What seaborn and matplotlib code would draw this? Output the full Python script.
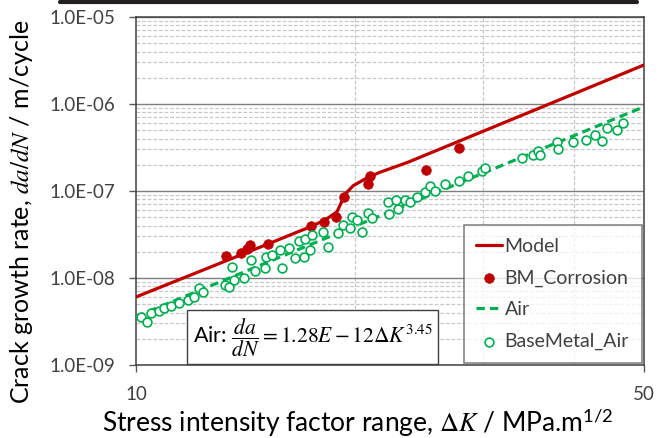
import numpy as np
import pandas as pd
import matplotlib
matplotlib.use("Agg")
import matplotlib.pyplot as plt
from matplotlib.lines import Line2D
from matplotlib.ticker import FixedLocator, FuncFormatter, NullFormatter, LogLocator
import seaborn as sns

# --- Daten ---
# Modell (rote Linie)
k_model = [10.0, 15.3, 17.35, 18.2, 18.9, 19.4, 19.9, 20.9, 21.7, 23.7, 50.0]
r_model = [6.05e-9, 2.52e-8, 3.86e-8, 4.64e-8, 5.74e-8, 9.2e-8, 1.15e-7,
           1.45e-7, 1.65e-7, 2.15e-7, 2.81e-6]

# BM_Corrosion (rote Punkte)
k_corr = [13.30, 13.94, 14.21, 14.35, 15.19, 17.41, 18.14, 18.84, 19.32,
          20.85, 20.98, 25.06, 27.82]
r_corr = [1.79e-8, 1.94e-8, 2.15e-8, 2.39e-8, 2.46e-8, 3.96e-8, 4.40e-8,
          5.03e-8, 8.53e-8, 1.20e-7, 1.49e-7, 1.74e-7, 3.12e-7]

# Air-Fit: da/dN = 1.28E-12 dK^3.45 (Endpunkte)
k_air = [10.0, 50.0]
r_air = [3.6e-9, 9.3e-7]

# BaseMetal_Air (gruene Kreise)
k_base = [10.16, 10.35, 10.49, 10.76, 10.93, 11.17, 11.46, 11.79, 12.02, 12.21,
          12.36, 13.25, 13.42, 13.64, 13.55, 14.08, 14.39, 14.58, 15.04, 15.09,
          15.38, 15.88, 15.78, 16.23, 16.54, 16.75, 17.08, 17.02, 17.46, 17.35,
          18.37, 18.08, 18.96, 19.26, 19.69, 19.82, 20.14, 20.46, 20.85, 21.12,
          22.21, 22.28, 22.78, 22.93, 23.44, 23.82, 24.35, 24.98, 25.37, 25.78,
          26.61, 27.82, 28.62, 29.92, 30.20, 33.96, 35.16, 35.72, 35.95, 37.94,
          38.06, 39.91, 41.59, 42.79, 43.75, 44.45, 45.88, 46.76]
r_base = [3.56e-9, 3.12e-9, 3.96e-9, 4.18e-9, 4.52e-9, 4.77e-9, 5.16e-9, 5.59e-9, 6.05e-9, 7.67e-9,
          6.90e-9, 8.31e-9, 7.88e-9, 9.48e-9, 1.34e-8, 1.00e-8, 1.61e-8, 1.20e-8, 1.30e-8, 1.74e-8,
          1.84e-8, 1.30e-8, 2.10e-8, 2.21e-8, 1.70e-8, 2.66e-8, 2.81e-8, 1.74e-8, 3.12e-8, 2.10e-8,
          2.27e-8, 3.38e-8, 3.29e-8, 4.07e-8, 3.75e-8, 5.02e-8, 4.64e-8, 3.38e-8, 5.59e-8, 4.89e-8,
          7.47e-8, 5.44e-8, 7.88e-8, 6.21e-8, 7.88e-8, 7.47e-8, 8.53e-8, 9.74e-8, 1.14e-7, 1.00e-7,
          1.20e-7, 1.30e-7, 1.49e-7, 1.70e-7, 1.84e-7, 2.39e-7, 2.59e-7, 2.88e-7, 2.59e-7, 3.66e-7,
          3.04e-7, 3.66e-7, 3.86e-7, 4.40e-7, 3.75e-7, 5.30e-7, 5.02e-7, 6.05e-7]

y_ticks = [1e-9, 1e-8, 1e-7, 1e-6, 1e-5]
x_ticks = [10, 50]
x_grid = [20, 30, 40]

ROT = "#C00000"
GRUEN = "#00B050"

sns.set_theme(style="white")
plt.rcParams["font.family"] = ["Lato", "DejaVu Sans"]
plt.rcParams["mathtext.fontset"] = "stix"

df_model = pd.DataFrame({"K": k_model, "r": r_model})
df_corr = pd.DataFrame({"K": k_corr, "r": r_corr})
df_air = pd.DataFrame({"K": k_air, "r": r_air})
df_base = pd.DataFrame({"K": k_base, "r": r_base})

fig = plt.figure(figsize=(6.69, 4.38), dpi=100)
ax = fig.add_axes([136/669, 73/438, 508/669, 348/438])
ax.set_xscale("log")
ax.set_yscale("log")

# Gitter
ax.yaxis.set_major_locator(FixedLocator(y_ticks))
ax.yaxis.set_minor_locator(LogLocator(base=10, subs=np.arange(2, 10)))
ax.yaxis.set_minor_formatter(NullFormatter())
ax.xaxis.set_major_locator(FixedLocator(x_ticks))
ax.xaxis.set_minor_locator(FixedLocator(x_grid))
ax.xaxis.set_minor_formatter(NullFormatter())
ax.grid(axis="y", which="major", color="#7f7f7f", lw=1.0, ls="-")
ax.grid(axis="y", which="minor", color="#c8c8c8", lw=0.9, ls=(0, (3, 1.5)))
ax.grid(axis="x", which="minor", color="#c8c8c8", lw=0.9, ls=(0, (3, 1.5)))
ax.set_axisbelow(True)

sns.lineplot(data=df_model, x="K", y="r", ax=ax, color=ROT, lw=2.3,
             label="Model", zorder=3)
sns.scatterplot(data=df_corr, x="K", y="r", ax=ax, color=ROT, s=48,
                edgecolor=ROT, linewidth=0.5, label="BM_Corrosion", zorder=4)
sns.lineplot(data=df_air, x="K", y="r", ax=ax, color=GRUEN, lw=2.3,
             linestyle=(0, (2.6, 1.6)), label="Air", zorder=3)
sns.scatterplot(data=df_base, x="K", y="r", ax=ax, facecolor="white",
                edgecolor=GRUEN, s=40, linewidth=1.2, label="BaseMetal_Air",
                zorder=5)

ax.set_xlim(10, 50)
ax.set_ylim(1e-9, 1e-5)

ax.yaxis.set_major_formatter(FuncFormatter(lambda v, p: f"{v:.1E}"))
ax.xaxis.set_major_formatter(FuncFormatter(lambda v, p: f"{v:g}"))
ax.tick_params(axis="y", which="major", length=5, width=1, color="#595959",
               pad=10, labelsize=13.5, labelcolor="#404040", left=True)
ax.tick_params(axis="x", which="major", length=5, width=1, color="#595959",
               pad=10, labelsize=13.5, labelcolor="#404040", bottom=True)
ax.tick_params(which="minor", length=0)

for s in ax.spines.values():
    s.set_color("#404040")
    s.set_linewidth(1.1)

ax.set_xlabel(r"Stress intensity factor range, $\Delta K$ / MPa.m$^{\mathregular{1/2}}$",
              fontsize=19, color="black")
ax.xaxis.set_label_coords(0.437, -0.118)
ax.set_ylabel(r"Crack growth rate, $da/dN$ / m/cycle", fontsize=18,
              color="black")
ax.yaxis.set_label_coords(-0.198, 0.44)

leg = ax.legend(loc="lower right", fontsize=14, frameon=True, fancybox=False,
                borderaxespad=0.12, labelspacing=0.75, borderpad=0.65,
                handlelength=1.3, handletextpad=0.15)
leg.get_frame().set_edgecolor("#595959")
leg.get_frame().set_linewidth(1.1)
for t in leg.get_texts():
    t.set_color("#404040")

ax.text(0.348, 0.08, r"Air: $\dfrac{da}{dN}=1.28E-12\Delta K^{3.45}$",
        transform=ax.transAxes, ha="center", va="center", fontsize=15.5,
        color="black", zorder=6,
        bbox=dict(boxstyle="square,pad=0.25", fc="white", ec="#404040", lw=1.0))

# schwarzer Balken oben (Bildrand)
fig.add_artist(Line2D([60/669, 637/669], [1 - 2/438, 1 - 2/438],
                      transform=fig.transFigure, color="#231f20", lw=3))

fig.savefig("out.png", dpi=100)
